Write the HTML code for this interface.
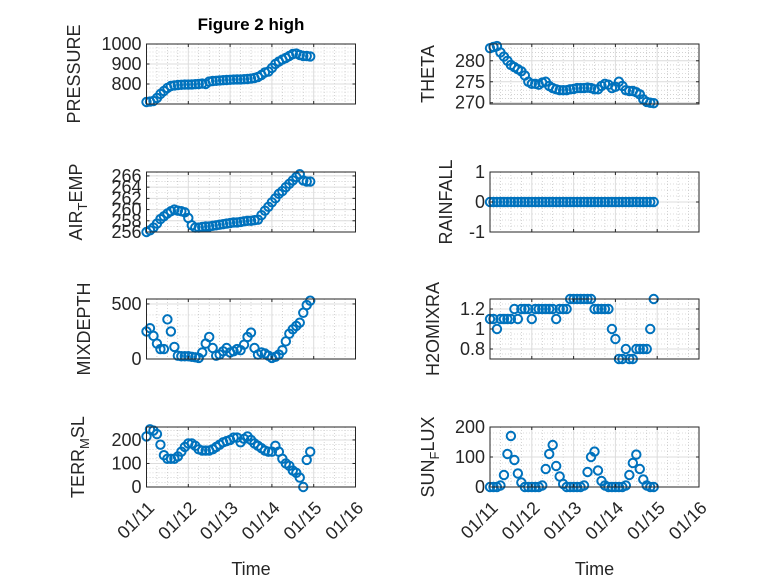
<!DOCTYPE html>
<html><head><meta charset="utf-8"><style>
body{margin:0;background:#fff;}
svg{display:block;font-family:"Liberation Sans",sans-serif;}
</style></head><body>
<svg id="fig" width="778" height="583" viewBox="0 0 778 583">
<rect width="778" height="583" fill="#fff"/>
<text x="251" y="30" text-anchor="middle" font-size="17" font-weight="bold" fill="#000">Figure 2 high</text>
</svg>
<script>
const hours = [0,2,4,6,8,10,12,14,16,18,20,22,24,26,28,30,32,34,36,38,40,42,44,46,48,50,52,54,56,58,60,62,64,66,68,70,72,74,76,78,80,82,84,86,88,90,92,94];
const pressure = [710,712,715,730,750,765,780,790,793,795,796,797,797,798,799,800,802,800,812,815,816,818,819,820,821,822,823,823,824,825,827,830,835,845,858,862,880,900,912,922,930,940,950,952,945,940,940,938];
const theta = [283,283.3,283.5,282,281,280,279,278.5,278,277.5,276.5,275,274.5,274.5,274.3,274.8,275,274,273.5,273.2,273,273,273,273.2,273.3,273.5,273.5,273.5,273.6,273.5,273.2,273.2,274,274.5,274.3,273.5,273.8,275,274,273,272.8,272.8,272.5,272,270.8,270.2,270,269.9];
const airTemp = [256,256.3,256.8,257.5,258.3,258.8,259.3,259.7,260,259.8,259.7,259.5,258.5,257.2,256.8,256.8,256.9,257,257,257.1,257.2,257.3,257.4,257.5,257.6,257.7,257.7,257.8,257.9,258,258,258.1,258.2,259,259.8,260.5,261.3,262,262.8,263.3,264,264.6,265.2,265.8,266.3,265.2,265,265];
const rainfall = [0,0,0,0,0,0,0,0,0,0,0,0,0,0,0,0,0,0,0,0,0,0,0,0,0,0,0,0,0,0,0,0,0,0,0,0,0,0,0,0,0,0,0,0,0,0,0,0];
const mixDepth = [250,280,210,140,90,90,360,250,110,30,25,25,25,20,15,10,60,140,200,100,30,40,70,100,60,70,90,80,130,200,240,100,40,60,50,30,10,20,40,80,160,230,270,300,330,420,490,530];
const h2oMix = [1.1,1.1,1.0,1.1,1.1,1.1,1.1,1.2,1.1,1.2,1.2,1.2,1.1,1.2,1.2,1.2,1.2,1.2,1.2,1.1,1.2,1.2,1.2,1.3,1.3,1.3,1.3,1.3,1.3,1.3,1.2,1.2,1.2,1.2,1.2,1.0,0.9,0.7,0.7,0.8,0.7,0.7,0.8,0.8,0.8,0.8,1.0,1.3];
const terrMsl = [215,245,240,225,180,135,120,120,120,130,150,170,185,185,175,160,155,155,155,160,170,180,190,195,200,210,210,190,205,215,200,185,175,165,155,150,150,175,150,120,100,90,70,60,40,0,115,150];
const sunFlux = [0,0,0,5,40,110,170,90,45,15,0,0,0,0,0,5,60,110,140,70,35,10,0,0,0,0,0,5,50,100,118,55,20,5,0,0,0,0,0,5,40,80,108,60,25,5,0,0];
const xTickLabels = ["01/11","01/12","01/13","01/14","01/15","01/16"];

const NS="http://www.w3.org/2000/svg";
const svg=document.getElementById('fig');
function mk(tag,attrs,parent){const e=document.createElementNS(NS,tag);for(const k in attrs)e.setAttribute(k,attrs[k]);(parent||svg).appendChild(e);return e;}

const panels=[
 {key:'pressure',data:pressure,x0:146.5,y0:44,label:'PRESSURE',lx:80,ylim:[700,1000],ticks:[800,900,1000],minor:[720,740,760,780,820,840,860,880,920,940,960,980],xlab:false},
 {key:'theta',data:theta,x0:490,y0:44,label:'THETA',lx:434,ylim:[269.7,284],ticks:[270,275,280],minor:[271,272,273,274,276,277,278,279,281,282,283],xlab:false},
 {key:'air-temp',data:airTemp,x0:146.5,y0:172,label:'AIR',sub:'T',rest:'EMP',lx:82,ylim:[256,266.7],ticks:[256,258,260,262,264,266],minor:[257,259,261,263,265],xlab:false},
 {key:'rainfall',data:rainfall,x0:490,y0:172,label:'RAINFALL',lx:452,ylim:[-1,1],ticks:[-1,0,1],minor:[-0.8,-0.6,-0.4,-0.2,0.2,0.4,0.6,0.8],xlab:false},
 {key:'mixdepth',data:mixDepth,x0:146.5,y0:299,label:'MIXDEPTH',lx:90,ylim:[0,545],ticks:[0,500],minor:[100,200,300,400],xlab:false},
 {key:'h2omixra',data:h2oMix,x0:490,y0:299,label:'H2OMIXRA',lx:439,ylim:[0.7,1.3],ticks:[0.8,1,1.2],minor:[0.75,0.85,0.9,0.95,1.05,1.1,1.15,1.25],xlab:false},
 {key:'terr-msl',data:terrMsl,x0:146.5,y0:427,label:'TERR',sub:'M',rest:'SL',lx:84,ylim:[0,255],ticks:[0,100,200],minor:[20,40,60,80,120,140,160,180,220,240],xlab:true},
 {key:'sun-flux',data:sunFlux,x0:490,y0:427,label:'SUN',sub:'F',rest:'LUX',lx:434,ylim:[0,200],ticks:[0,100,200],minor:[20,40,60,80,120,140,160,180],xlab:true}
];
const W=209,H=60,dayW=W/5;

panels.forEach(p=>{
 const g=mk('g',{});
 
 
 const xs=h=>p.x0+h/24*dayW;
 const ys=v=>p.y0+H-(v-p.ylim[0])/(p.ylim[1]-p.ylim[0])*H;
 mk('rect',{x:p.x0,y:p.y0,width:W,height:H,fill:'#fff'},g);
 for(let d=0;d<5;d++)for(let q=1;q<4;q++){const x=p.x0+(d+q/4)*dayW;mk('line',{x1:x,y1:p.y0,x2:x,y2:p.y0+H,stroke:'#b8b8b8','stroke-width':0.6,'stroke-dasharray':'1 2'},g);}
 p.minor.forEach(v=>{const y=ys(v);mk('line',{x1:p.x0,y1:y,x2:p.x0+W,y2:y,stroke:'#b8b8b8','stroke-width':0.6,'stroke-dasharray':'1 2'},g);});
 for(let d=1;d<5;d++){const x=p.x0+d*dayW;mk('line',{x1:x,y1:p.y0,x2:x,y2:p.y0+H,stroke:'#dcdcdc','stroke-width':1},g);}
 p.ticks.forEach(v=>{const y=ys(v);mk('line',{x1:p.x0,y1:y,x2:p.x0+W,y2:y,stroke:'#dcdcdc','stroke-width':1},g);});
 const sg=mk('g',{},g);
 
 
 p.data.forEach((v,i)=>{
  const c=mk('circle',{cx:xs(hours[i]),cy:ys(v),r:4.2,fill:'none',stroke:'#0072BD','stroke-width':2},sg);
  
  
 });
 mk('rect',{x:p.x0,y:p.y0,width:W,height:H,fill:'none',stroke:'#262626','stroke-width':1},g);
 for(let d=0;d<=5;d++){const x=p.x0+d*dayW;
  mk('line',{x1:x,y1:p.y0+H,x2:x,y2:p.y0+H-3,stroke:'#262626'},g);
  mk('line',{x1:x,y1:p.y0,x2:x,y2:p.y0+3,stroke:'#262626'},g);
  if(p.xlab){const ax=x+9,ay=p.y0+H+22;
   const t=mk('text',{x:ax,y:ay,'text-anchor':'end','font-size':18,fill:'#262626',transform:`rotate(-45 ${ax} ${ay})`},g);t.textContent=xTickLabels[d];
   
   }
 }
 p.ticks.forEach(v=>{const y=ys(v);
  mk('line',{x1:p.x0,y1:y,x2:p.x0+3,y2:y,stroke:'#262626'},g);
  mk('line',{x1:p.x0+W,y1:y,x2:p.x0+W-3,y2:y,stroke:'#262626'},g);
  const t=mk('text',{x:p.x0-5,y:y+6,'text-anchor':'end','font-size':18,fill:'#262626'},g);t.textContent=String(v);
  
  
 });
 const cy=p.y0+H/2;
 const t=mk('text',{x:p.lx,y:cy,'text-anchor':'middle','font-size':18,fill:'#262626',transform:`rotate(-90 ${p.lx} ${cy})`},g);
 
 
 if(p.sub){
  const a=mk('tspan',{},t);a.textContent=p.label;
  const b=mk('tspan',{dy:5,'font-size':13},t);b.textContent=p.sub;
  const c=mk('tspan',{dy:-5},t);c.textContent=p.rest;
 } else t.textContent=p.label;
 if(p.xlab){const xt=mk('text',{x:p.x0+W/2,y:575,'text-anchor':'middle','font-size':18,fill:'#262626'},g);xt.textContent='Time';
  
  }
});
</script>
</body></html>
